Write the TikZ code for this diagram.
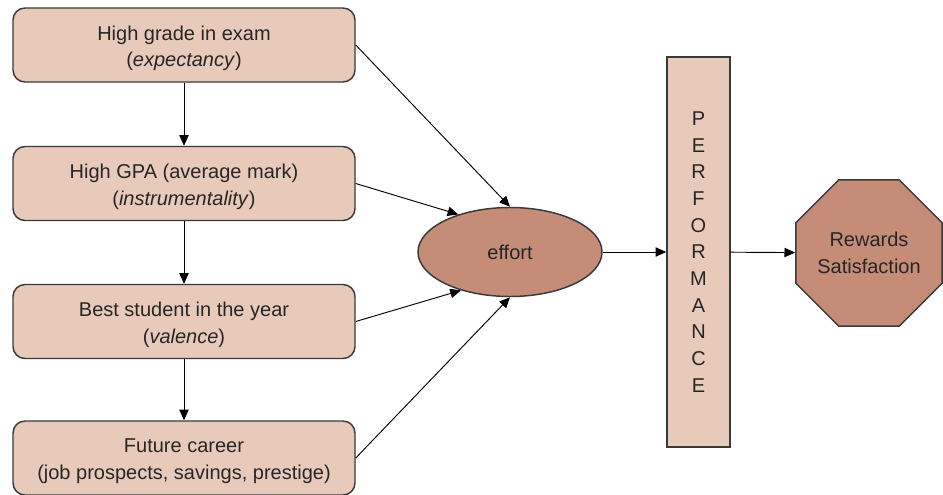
\documentclass[tikz,border=0pt]{standalone}
\usepackage{fontspec}
\setmainfont{Liberation Sans}
\usetikzlibrary{shapes.geometric,arrows.meta}
\definecolor{boxfill}{HTML}{E8CABA}
\definecolor{darkfill}{HTML}{C58C77}
\definecolor{edge}{HTML}{3A3A3A}
\begin{document}
\begin{tikzpicture}[x=0.75pt,y=-0.75pt,
  txt/.style={font=\fontsize{15pt}{20pt}\selectfont, text=black!85},
  lbox/.style={draw=edge, line width=1.1pt, fill=boxfill, rounded corners=9pt,
    minimum width=256.5pt, minimum height=55.5pt, inner sep=0pt},
  boxtext/.style={txt, align=center, inner sep=0pt, yshift=-2.5pt},
  conn/.style={draw=black, line width=0.7pt, -{Triangle[length=8pt,width=7pt]}}]
\useasboundingbox (0,0) rectangle (943,494);
\node[lbox, label={[boxtext]center:High grade in exam\\(\textit{expectancy})}] (b1) at (184,45) {};
\node[lbox, label={[boxtext]center:High GPA (average mark)\\(\textit{instrumentality})}] (b2) at (184,183.5) {};
\node[lbox, label={[boxtext]center:Best student in the year\\(\textit{valence})}] (b3) at (184,321.5) {};
\node[lbox, label={[boxtext]center:Future career\\(job prospects, savings, prestige)}] (b4) at (184,458) {};
\node[txt, ellipse, draw=edge, line width=1.1pt, fill=darkfill, minimum width=138pt,
  minimum height=66.75pt, inner sep=0pt] (e) at (510,252) {effort};
\node[txt, draw=edge, line width=1.1pt, fill=boxfill, minimum width=47.25pt,
  minimum height=292.5pt, inner sep=0pt, align=center,
  font=\fontsize{15pt}{20pt}\selectfont] (p) at (698.5,252)
  {P\\E\\R\\F\\O\\R\\M\\A\\N\\C\\E};
\node[txt, regular polygon, regular polygon sides=8, draw=edge, line width=1.1pt,
  fill=darkfill, minimum size=118.5pt, inner sep=0pt, align=center] (o) at (869,253)
  {Rewards\\Satisfaction};
\draw[conn] (b1) -- (b2);
\draw[conn] (b2) -- (b3);
\draw[conn] (b3) -- (b4);
\draw[conn] (b1.east) -- (e.north);
\draw[conn] (b2.east) -- (e.144);
\draw[conn] (b3.east) -- (e.218);
\draw[conn] (b4.east) -- (e.south);
\draw[conn] (e) -- (p);
\draw[conn] (p) -- (o);
\end{tikzpicture}
\end{document}
